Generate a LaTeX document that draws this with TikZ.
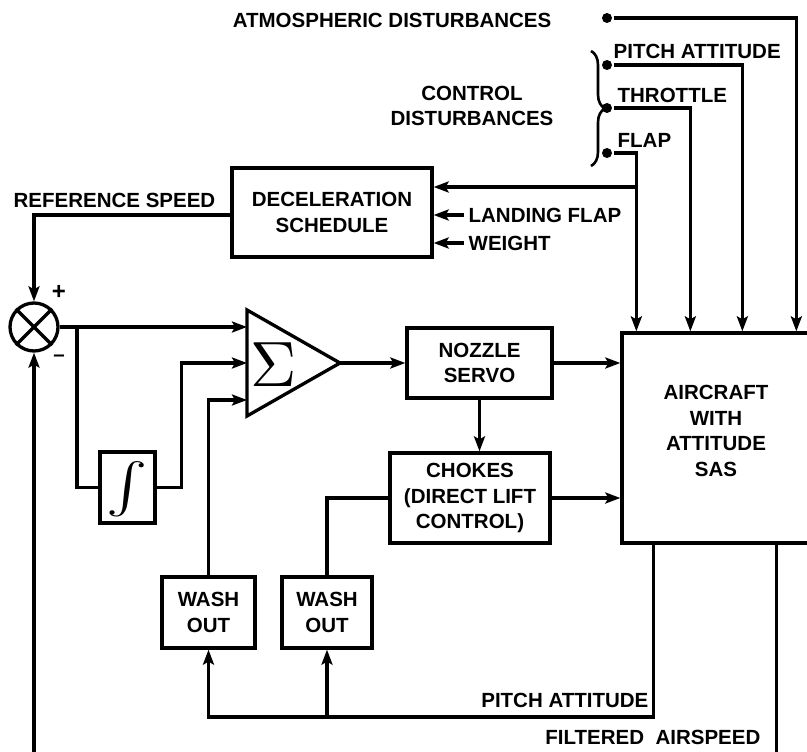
\documentclass[tikz,border=0pt]{standalone}
\usepackage{fontspec}
\setmainfont{Liberation Sans}
\usetikzlibrary{arrows.meta,decorations.pathreplacing}
\newcommand\dgfont{\fontsize{20.5}{25.5}\selectfont\bfseries}
\begin{document}
\begin{tikzpicture}[x=1pt,y=-1pt,line width=3.3pt,
  blk/.style={draw,rectangle,inner sep=0pt,align=center,font=\dgfont},
  lbl/.style={inner sep=0pt,align=center,font=\dgfont},
  arr/.style={-{Stealth[length=15pt,width=11pt,inset=3pt]}},
  dotc/.style={circle,fill,inner sep=0pt,minimum size=10pt}]
\path[use as bounding box] (0,0) rectangle (807,752);
\clip (0,0) rectangle (807,752);

% blocks
\node[blk,minimum width=200pt,minimum height=89pt] (dec) at (332,212.5) {DECELERATION\\SCHEDULE};
\node[blk,minimum width=145pt,minimum height=70pt] (noz) at (479.5,363) {NOZZLE\\SERVO};
\node[blk,minimum width=160pt,minimum height=90pt] (ch) at (470,498) {CHOKES\\(DIRECT LIFT\\CONTROL)};
\node[blk,minimum width=93pt,minimum height=71pt] (wo1) at (208.5,612.5) {WASH\\OUT};
\node[blk,minimum width=90pt,minimum height=71pt] (wo2) at (327,612.5) {WASH\\OUT};
\node[blk,minimum width=55pt,minimum height=71pt] (int) at (127.5,487.5) {};
\node[inner sep=0pt] (intsym) at (127.5,489) {\scalebox{6.2}[5.0]{$\int$}};
\node[blk,minimum width=200pt,minimum height=210pt] (ac) at (722,438) {};
\node[lbl] (actext) at (716,431) {AIRCRAFT\\WITH\\ATTITUDE\\SAS};

% summing junction
\node[draw,circle,minimum size=48pt,inner sep=0pt] (sj) at (34,327) {};
\draw (sj.north west) -- (sj.south east) (sj.north east) -- (sj.south west);
\node[lbl] (plus) at (59,292) {\fontsize{24}{24}\selectfont +};
\node[lbl] (minus) at (59,358) {--};

% sigma amplifier
\draw[line join=miter] (247,310) coordinate (stop) -- (340,363) coordinate (apex) -- (247,416) coordinate (sbot) -- cycle;
\coordinate (s1) at (247,327);
\coordinate (s2) at (247,363);
\coordinate (s3) at (247,400);
\node (sigma) at (274,365) {\scalebox{6.4}{$\Sigma$}};

% disturbance inputs
\node[dotc] (dA) at (607,18) {};
\node[dotc] (dP) at (607,65) {};
\node[dotc] (dT) at (607,108) {};
\node[dotc] (dF) at (607,153) {};
\node[lbl,anchor=east] (atm) at (553,20) {ATMOSPHERIC DISTURBANCES};
\node[lbl,anchor=west] (lp) at (612,51) {PITCH ATTITUDE};
\node[lbl,anchor=west] (lt) at (616,95) {THROTTLE};
\node[lbl,anchor=west] (lfl) at (616,140) {FLAP};
\node[lbl] (cd) at (472,106) {CONTROL\\DISTURBANCES};
\draw[line width=2.6pt,decorate,decoration={brace,amplitude=14pt,mirror}] (591,166) -- (591,51);

\coordinate (aA) at ([xshift=176pt]ac.north west);
\coordinate (aP) at ([xshift=122pt]ac.north west);
\coordinate (aT) at ([xshift=70pt]ac.north west);
\coordinate (aF) at ([xshift=16pt]ac.north west);
\draw[arr] (dA) -| (aA);
\draw[arr] (dP) -| (aP);
\draw[arr] (dT) -| (aT);
\draw[arr] (dF) -| (aF);
\coordinate (fb) at (638,187);
\draw[arr] (fb) -- (fb -| dec.east);

% deceleration inputs
\node[lbl,anchor=west] (land) at (467,215) {LANDING FLAP};
\node[lbl,anchor=west] (wt) at (467,243) {WEIGHT};
\draw[arr] ([xshift=-3pt]land.west) -- (land.west -| dec.east);
\draw[arr] ([xshift=-3pt]wt.west) -- (wt.west -| dec.east);

% reference speed
\node[lbl,anchor=west] (rs) at (12,200) {REFERENCE SPEED};
\draw[arr] ([yshift=-2.5pt]dec.west) -| (sj.north);

% forward path
\draw[arr] (sj.east) -- (s1);
\coordinate (b1) at (77,327);
\draw (b1) |- (int.west);
\draw[arr] (int.east) -- ++(25,0) |- (s2);
\draw[arr] (wo1.north) |- (s3);
\draw[arr] (apex) -- (noz.west);
\draw[arr] (noz.east) -- (noz.east -| ac.west);
\draw[arr] (noz.south) -- (noz.south |- ch.north);
\draw[arr] (ch.east) -- (ch.east -| ac.west);
\draw (ch.west) -| (wo2.north);

% feedback
\coordinate (pb) at (208.5,717);
\draw[arr] ([xshift=33pt]ac.south west) |- (pb) -- (wo1.south);
\draw[arr] (wo2.south |- pb) -- (wo2.south);
\node[lbl,anchor=east] (lpa) at (650,700) {PITCH ATTITUDE};
\coordinate (fl) at (34,770);
\draw[arr] ([xshift=156pt]ac.south west) |- (fl) -- (sj.south);
\node[lbl,anchor=east] (lfa) at (762,737) {FILTERED\ \ AIRSPEED};
\end{tikzpicture}
\end{document}
